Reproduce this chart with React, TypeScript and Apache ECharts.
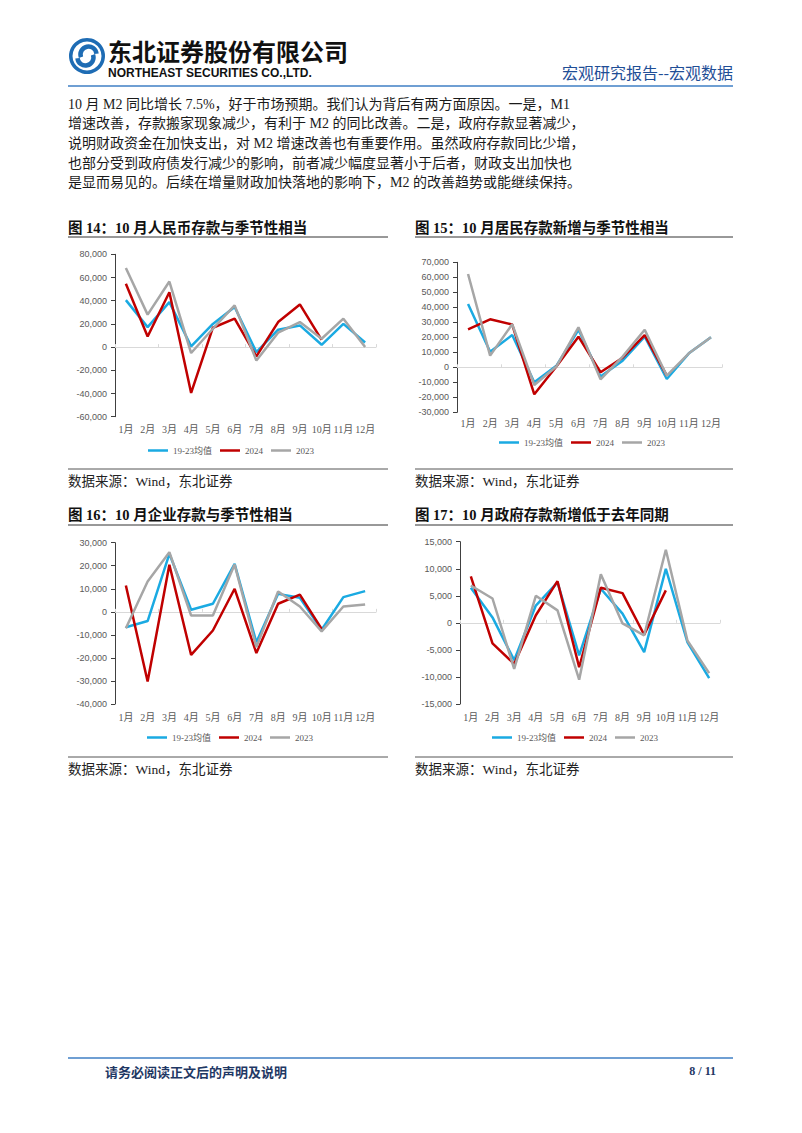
import React, { useEffect, useRef } from "react";
import * as echarts from "echarts";

const months = ["1月", "2月", "3月", "4月", "5月", "6月", "7月", "8月", "9月", "10月", "11月", "12月"];
const seriesNames = ["19-23均值", "2024", "2023"];

// 图14 人民币存款
const c14Avg = [40500, 17200, 38800, 600, 20000, 34500, -4300, 15000, 18700, 2000, 20000, 4000];
const c14Y2024 = [54600, 9200, 47300, -39500, 16700, 24500, -8000, 21600, 36800, 6300];
const c14Y2023 = [68200, 28000, 56500, -5100, 15800, 36000, -11500, 12400, 21600, 7200, 24500, 0];

// 图15 居民存款
const c15Avg = [42200, 10400, 21500, -10000, 1000, 25000, -6200, 4400, 20400, -7800, 9300, 20000];
const c15Y2024 = [25300, 32000, 28500, -18000, 500, 20400, -3300, 6400, 21500, -5500];
const c15Y2023 = [62200, 7800, 28700, -11800, 500, 26700, -8000, 7100, 25000, -5600, 9300, 20000];

// 图16 企业存款
const c16Avg = [-6700, -4000, 25200, 900, 3500, 20800, -13200, 7800, 6100, -7800, 6400, 9000];
const c16Y2024 = [11400, -30200, 20400, -18700, -8100, 10000, -17900, 3500, 7500, -7400];
const c16Y2023 = [-7100, 13200, 25900, -1600, -1600, 20500, -15300, 8800, 2300, -8500, 2300, 3200];

// 图17 政府存款
const c17Avg = [6500, 1000, -6900, 3200, 7500, -6000, 6300, 1700, -5400, 10000, -3600, -10200];
const c17Y2024 = [8600, -3800, -7600, 1400, 7700, -8200, 6500, 5500, -2200, 6000];
const c17Y2023 = [6900, 4500, -8500, 5000, 2300, -10500, 9000, -100, -2300, 13500, -3300, -9300];

const yTicks = [
  { min: -60000, max: 80000, interval: 20000 },
  { min: -30000, max: 70000, interval: 10000 },
  { min: -40000, max: 30000, interval: 10000 },
  { min: -15000, max: 15000, interval: 5000 },
];

const paragraph = [
  "10 月 M2 同比增长 7.5%，好于市场预期。我们认为背后有两方面原因。一是，M1",
  "增速改善，存款搬家现象减少，有利于 M2 的同比改善。二是，政府存款显著减少，",
  "说明财政资金在加快支出，对 M2 增速改善也有重要作用。虽然政府存款同比少增，",
  "也部分受到政府债发行减少的影响，前者减少幅度显著小于后者，财政支出加快也",
  "是显而易见的。后续在增量财政加快落地的影响下，M2 的改善趋势或能继续保持。",
];

const titles = [
  "图 14：10 月人民币存款与季节性相当",
  "图 15：10 月居民存款新增与季节性相当",
  "图 16：10 月企业存款与季节性相当",
  "图 17：10 月政府存款新增低于去年同期",
];
const sourceText = "数据来源：Wind，东北证券";

const COLORS = ["#1AAAE2", "#C00000", "#A6A6A6"];
const SERIF = "'Liberation Serif', 'Noto Sans CJK SC', serif";
const SANS = "'Liberation Sans', Arial, sans-serif";
const CJK = "'Noto Sans CJK SC', sans-serif";

const chartData = [
  [c14Avg, c14Y2024, c14Y2023],
  [c15Avg, c15Y2024, c15Y2023],
  [c16Avg, c16Y2024, c16Y2023],
  [c17Avg, c17Y2024, c17Y2023],
];

// layout boxes
const grids = [
  { left: 115, top: 254.3, width: 261, height: 162.4, legendLeft: 143, legendTop: 441, labelMargin: 8 },
  { left: 457, top: 262.3, width: 265, height: 150, legendLeft: 494, legendTop: 433, labelMargin: 6 },
  { left: 115, top: 542.7, width: 261, height: 161.3, legendLeft: 142, legendTop: 728, labelMargin: 8 },
  { left: 460, top: 541.7, width: 260, height: 162.3, legendLeft: 487, legendTop: 728, labelMargin: 8 },
];

const panelBoxes = [
  { x: 68, x2: 388, titleY: 228, lineY: 237, bottomLineY: 469, sourceY: 481 },
  { x: 415, x2: 733, titleY: 228, lineY: 237, bottomLineY: 469, sourceY: 481 },
  { x: 68, x2: 388, titleY: 515, lineY: 525, bottomLineY: 757, sourceY: 769 },
  { x: 415, x2: 733, titleY: 515, lineY: 525, bottomLineY: 757, sourceY: 769 },
];

function buildOption() {
  const grid: any[] = [];
  const xAxis: any[] = [];
  const yAxis: any[] = [];
  const series: any[] = [];
  const legend: any[] = [];

  grids.forEach((g, i) => {
    grid.push({ left: g.left, top: g.top, width: g.width, height: g.height, containLabel: false });
    xAxis.push({
      type: "category",
      gridIndex: i,
      data: months,
      position: "bottom",
      boundaryGap: true,
      axisLine: { show: false, onZero: false },
      axisTick: { show: false },
      axisLabel: { interval: 0, fontSize: 10, color: "#595959", fontFamily: SERIF, margin: g.labelMargin },
      splitLine: { show: false },
    });
    xAxis.push({
      type: "category",
      gridIndex: i,
      data: months,
      position: "bottom",
      boundaryGap: true,
      axisLine: { show: true, onZero: true, lineStyle: { color: "#D9D9D9", width: 1 } },
      axisTick: { show: true, inside: true, length: 3, lineStyle: { color: "#D9D9D9" } },
      axisLabel: { show: false },
      splitLine: { show: false },
    });
    yAxis.push({
      type: "value",
      gridIndex: i,
      min: yTicks[i].min,
      max: yTicks[i].max,
      interval: yTicks[i].interval,
      splitLine: { show: false },
      axisLine: { show: true, lineStyle: { color: "#404040", width: 1 } },
      axisTick: { show: true, length: 4, lineStyle: { color: "#404040" } },
      axisLabel: {
        fontSize: 9,
        color: "#595959",
        fontFamily: SANS,
        margin: 8,
        formatter: (v: number) => v.toLocaleString("en-US"),
      },
    });
    chartData[i].forEach((d, k) => {
      series.push({
        type: "line",
        name: seriesNames[k],
        xAxisIndex: i * 2,
        yAxisIndex: i,
        data: d,
        symbol: "none",
        lineStyle: { width: 2.5, color: COLORS[k] },
        itemStyle: { color: COLORS[k] },
        z: 2 + k,
      });
    });
    legend.push({
      left: g.legendLeft,
      top: g.legendTop,
      data: seriesNames,
      icon: "rect",
      itemWidth: 20,
      itemHeight: 2.5,
      itemGap: 8,
      textStyle: { fontSize: 9, color: "#595959", fontFamily: SERIF },
      selectedMode: false,
    });
  });

  const graphic: any[] = [];
  // header logo
  graphic.push({ type: "ring", shape: { cx: 87, cy: 56, r: 18, r0: 14.5 }, style: { fill: "#1E6CB4" } });
  graphic.push({
    type: "arc",
    shape: { cx: 88.5, cy: 54.5, r: 8, startAngle: (160 * Math.PI) / 180, endAngle: (355 * Math.PI) / 180, clockwise: true },
    style: { stroke: "#1E6CB4", lineWidth: 4.5, fill: null },
  });
  graphic.push({
    type: "arc",
    shape: { cx: 85.5, cy: 57.5, r: 8, startAngle: (-20 * Math.PI) / 180, endAngle: (175 * Math.PI) / 180, clockwise: true },
    style: { stroke: "#1E6CB4", lineWidth: 4.5, fill: null },
  });
  graphic.push({
    type: "text",
    x: 108,
    y: 50,
    style: { text: "东北证券股份有限公司", fontSize: 24, lineHeight: 24, fontWeight: "bold", fontFamily: CJK, fill: "#111", verticalAlign: "middle" },
  });
  graphic.push({
    type: "text",
    x: 108,
    y: 73,
    style: { text: "NORTHEAST SECURITIES CO.,LTD.", fontSize: 12, lineHeight: 12, fontWeight: "bold", fontFamily: SANS, fill: "#111", verticalAlign: "middle" },
  });
  graphic.push({
    type: "text",
    x: 733,
    y: 72,
    style: { text: "宏观研究报告--宏观数据", fontSize: 16, fontFamily: CJK, fill: "#1F4E96", align: "right", verticalAlign: "middle" },
  });
  graphic.push({ type: "line", shape: { x1: 68, y1: 86, x2: 733, y2: 86 }, style: { stroke: "#3F7FC4", lineWidth: 1.5 } });

  // paragraph
  paragraph.forEach((t, i) => {
    graphic.push({
      type: "text",
      x: 68,
      y: 104 + i * 19.7,
      style: { text: t, fontSize: 14, fontFamily: SERIF, fill: "#1a1a1a", verticalAlign: "middle" },
    });
  });

  // panels
  panelBoxes.forEach((p, i) => {
    graphic.push({
      type: "text",
      x: p.x,
      y: p.titleY,
      style: { text: titles[i], fontSize: 14.5, fontWeight: "bold", fontFamily: SERIF, fill: "#111", verticalAlign: "middle" },
    });
    graphic.push({ type: "line", shape: { x1: p.x, y1: p.lineY, x2: p.x2, y2: p.lineY }, style: { stroke: "#333", lineWidth: 1 } });
    graphic.push({ type: "line", shape: { x1: p.x, y1: p.bottomLineY, x2: p.x2, y2: p.bottomLineY }, style: { stroke: "#555", lineWidth: 1 } });
    graphic.push({
      type: "text",
      x: p.x,
      y: p.sourceY,
      style: { text: sourceText, fontSize: 13.5, fontFamily: SERIF, fill: "#222", verticalAlign: "middle" },
    });
  });

  // footer
  graphic.push({ type: "line", shape: { x1: 68, y1: 1058, x2: 733, y2: 1058 }, style: { stroke: "#3F7FC4", lineWidth: 1.5 } });
  graphic.push({
    type: "text",
    x: 105,
    y: 1071,
    style: { text: "请务必阅读正文后的声明及说明", fontSize: 13, fontWeight: "bold", fontFamily: CJK, fill: "#1F3864", verticalAlign: "middle" },
  });
  graphic.push({
    type: "text",
    x: 716,
    y: 1071,
    style: { text: "8 / 11", fontSize: 12, fontWeight: "bold", fontFamily: SERIF, fill: "#1F3864", align: "right", verticalAlign: "middle" },
  });

  return {
    animation: false,
    backgroundColor: "#ffffff",
    grid,
    xAxis,
    yAxis,
    series,
    legend,
    graphic: { elements: graphic },
  };
}

export default function App() {
  const ref = useRef<HTMLDivElement>(null);
  useEffect(() => {
    if (!ref.current) return;
    const chart = echarts.init(ref.current, undefined, { renderer: "svg" });
    chart.setOption(buildOption() as any);
    return () => chart.dispose();
  }, []);
  return <div ref={ref} style={{ position: "absolute", left: 0, top: 0, width: 802, height: 1133 }} />;
}
